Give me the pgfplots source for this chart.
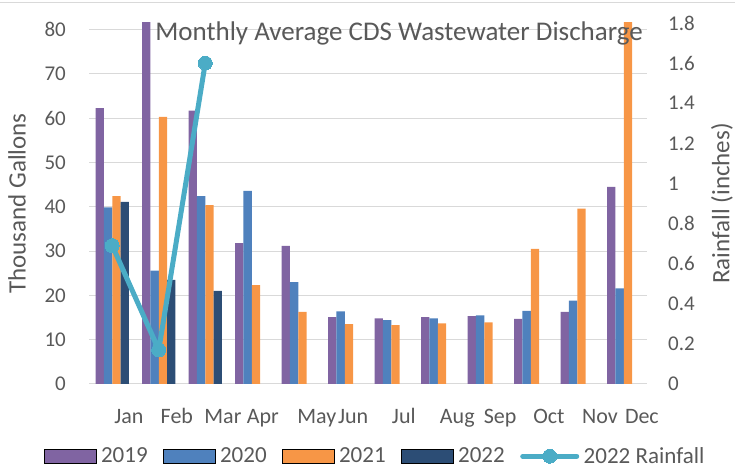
\documentclass[border=0pt]{standalone}
\usepackage{pgfplots}
\pgfplotsset{compat=1.18}
\usepackage{pgfplotstable}
\usepackage{fontspec}
\setmainfont{Carlito}
\definecolor{c19}{HTML}{8064A2}
\definecolor{c20}{HTML}{4F81BD}
\definecolor{c21}{HTML}{F79646}
\definecolor{c22}{HTML}{2C4D75}
\definecolor{crain}{HTML}{4BACC6}
\definecolor{gridc}{HTML}{D9D9D9}
\definecolor{txt}{HTML}{595959}
\pgfplotsset{
  barleg/.style={legend image code/.code={\fill[##1] (0pt,-7pt) rectangle (52pt,7pt);}},
  lineleg/.style={legend image code/.code={\draw[##1,mark repeat=2,mark phase=2] plot coordinates {(0pt,0pt) (27pt,0pt) (54pt,0pt)};}},
}
\pgfplotstableread{
x y19 y20 y21
0 62.3 39.9 42.4
1 82.5 25.6 60.3
2 61.7 42.4 40.4
3 31.8 43.6 22.3
4 31.2 23.0 16.3
5 15.1 16.4 13.5
6 14.8 14.4 13.3
7 15.1 14.8 13.7
8 15.3 15.5 13.9
9 14.7 16.5 30.5
10 16.3 18.8 39.6
11 44.5 21.6 82.5
}\discharge
\pgfplotstableread{
x y22
0 41.1
1 23.5
2 21.0
}\dischargeTwentyTwo
\pgfplotstableread{
x rain
0 0.69
1 0.17
2 1.60
}\rainfall
\begin{document}
\begin{tikzpicture}[x=1pt,y=1pt]
\path[use as bounding box] (0,0) rectangle (735,468);
\draw[gridc, line width=1pt] (0,465) -- (735,465);
\begin{axis}[
  at={(89pt,84pt)}, anchor=south west,
  width=558pt, height=361pt, scale only axis,
  xmin=-0.5, xmax=11.5, ymin=0, ymax=81.5,
  ybar=0pt, bar width=8.35pt,
  axis line style={draw=none},
  major tick length=0pt,
  ytick={0,10,...,80},
  yticklabels={0,10,20,30,40,50,60,70,80},
  ymajorgrids, grid style={gridc, line width=1pt},
  yticklabel style={font=\fontsize{21}{25}\selectfont, text=txt, anchor=east, inner sep=0pt, xshift=-23pt},
  xtick={0.36,1.39,2.38,3.24,4.40,5.18,6.27,7.42,8.34,9.39,10.49,11.39},
  xticklabels={Jan,Feb,Mar,Apr,May,Jun,Jul,Aug,Sep,Oct,Nov,Dec},
  xticklabel style={font=\fontsize{22}{26}\selectfont, text=txt, anchor=base, inner sep=0pt, yshift=-39pt},
  ylabel={Thousand Gallons},
  ylabel style={font=\fontsize{25}{30}\selectfont, text=txt, at={(axis description cs:-0.129,0.5)}, anchor=center, inner sep=0pt},
  title={Monthly Average CDS Wastewater Discharge},
  title style={font=\fontsize{27}{32}\selectfont, text=txt, at={(axis description cs:0.5556,0.9335)}, anchor=base, inner sep=0pt},
]
\addplot[fill=c19, draw=none] table[x=x,y=y19] {\discharge};
\addplot[fill=c20, draw=none] table[x=x,y=y20] {\discharge};
\addplot[fill=c21, draw=none] table[x=x,y=y21] {\discharge};
\addplot[fill=c22, draw=none] table[x=x,y=y22] {\dischargeTwentyTwo};
\end{axis}
\begin{axis}[
  at={(89pt,84pt)}, anchor=south west,
  width=558pt, height=361pt, scale only axis,
  xmin=-0.5, xmax=11.5, ymin=0, ymax=1.8,
  hide x axis,
  axis y line*=right,
  axis line style={draw=none},
  major tick length=0pt,
  ytick={0,0.2,0.4,0.6,0.8,1,1.2,1.4,1.6,1.8},
  yticklabels={0,0.2,0.4,0.6,0.8,1,1.2,1.4,1.6,1.8},
  yticklabel style={font=\fontsize{21}{25}\selectfont, text=txt, anchor=west, inner sep=0pt, xshift=21pt},
  ylabel={Rainfall (inches)},
  ylabel style={font=\fontsize{25}{30}\selectfont, text=txt, at={(axis description cs:1.1344,0.5)}, anchor=center, rotate=0, inner sep=0pt},
  legend columns=5,
  legend style={at={(axis description cs:0.5117,-0.2)}, anchor=center, draw=none, fill=none,
    font=\fontsize{23}{27}\selectfont, text=txt, inner sep=0pt,
    nodes={inner sep=0.5pt},
    /tikz/every odd column/.append style={column sep=4pt},
    /tikz/every even column/.append style={column sep=15pt}},
]
\addlegendimage{barleg, fill=c19}
\addlegendimage{barleg, fill=c20}
\addlegendimage{barleg, fill=c21}
\addlegendimage{barleg, fill=c22}
\addplot[crain, line width=5pt, line join=round, line cap=round, mark=*, mark size=7pt, mark options={fill=crain, draw=crain, line width=0pt}, lineleg] table[x=x,y=rain] {\rainfall};
\legend{2019,2020,2021,2022,2022 Rainfall}
\end{axis}
\end{tikzpicture}
\end{document}
